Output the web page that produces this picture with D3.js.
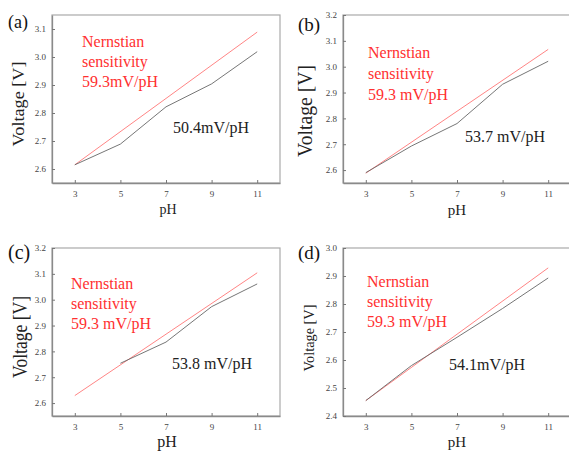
<!DOCTYPE html>
<html lang="en">
<head>
<meta charset="UTF-8"/>
<title>pH sensitivity</title>
<script src="https://d3js.org/d3.v7.min.js"></script>
<style>
	body { margin: 0; background: #fff; }
</style>
</head>
<body>
<script>
// values
var phTicks = [3, 5, 7, 9, 11];
var phFull = [3, 5, 7, 9, 11];
var phC = [5, 7, 9, 11];
var phEnds = [3, 11];

var voltA = [2.615, 2.689, 2.822, 2.904, 3.019];
var voltB = [2.590, 2.693, 2.780, 2.932, 3.021];
var voltC = [2.754, 2.836, 2.973, 3.061];
var voltD = [2.455, 2.580, 2.681, 2.784, 2.893];

var nernstA = [2.615, 3.089];
var nernstB = [2.588, 3.067];
var nernstC = [2.629, 3.104];
var nernstD = [2.455, 2.929];

var yTicksA = [2.6, 2.7, 2.8, 2.9, 3.0, 3.1];
var yTicksBC = [2.6, 2.7, 2.8, 2.9, 3.0, 3.1, 3.2];
var yTicksD = [2.4, 2.5, 2.6, 2.7, 2.8, 2.9, 3.0];

var panelNames = ["(a)", "(b)", "(c)", "(d)"];
var slopeTexts = ["50.4mV/pH", "53.7 mV/pH", "53.8 mV/pH", "54.1mV/pH"];
var nernstTexts = ["59.3mV/pH", "59.3 mV/pH", "59.3 mV/pH", "59.3 mV/pH"];

var w = 569, h = 451;
var serif = "'Liberation Serif', 'DejaVu Serif', serif";

var svg = d3.select("body").append("svg")
	.attr("width", w)
	.attr("height", h);

// layout of each panel (pixels)
var panels = [
	{ px: phFull, v: voltA, n: nernstA, yd: [2.55, 3.15], yt: yTicksA,
	  l: 52, r: 280, t: 15, b: 183,
	  name: [8, 28, 18], ylab: [24, 104, 17, 85], xlab: [168, 214, 14],
	  red: [82, 47, 20], blk: [173, 133] },
	{ px: phFull, v: voltB, n: nernstB, yd: [2.55, 3.2], yt: yTicksBC,
	  l: 343, r: 571, t: 15, b: 183,
	  name: [298, 31, 19], ylab: [312, 111, 20, 92], xlab: [457, 215, 15],
	  red: [368, 58, 21], blk: [465, 142] },
	{ px: phC, v: voltC, n: nernstC, yd: [2.55, 3.2], yt: yTicksBC,
	  l: 52, r: 280, t: 248, b: 416,
	  name: [8, 259, 20], ylab: [27, 337, 20, 82], xlab: [167, 447, 16],
	  red: [71, 289, 20], blk: [172, 369] },
	{ px: phFull, v: voltD, n: nernstD, yd: [2.4, 3.0], yt: yTicksD,
	  l: 343, r: 571, t: 248, b: 416,
	  name: [298, 259, 19], ylab: [314, 338, 15, 67], xlab: [457, 447, 15],
	  red: [367, 287, 20], blk: [449, 370] }
];

panels.forEach(function(p, i) {
	var g = svg.append("g");

	var x = d3.scaleLinear().domain([2, 12]).range([p.l, p.r]);
	var y = d3.scaleLinear().domain(p.yd).range([p.b, p.t]);

	// frame
	g.append("rect")
		.attr("x", p.l).attr("y", p.t)
		.attr("width", p.r - p.l).attr("height", p.b - p.t)
		.attr("fill", "none")
		.attr("stroke", "#aaa")
		.attr("stroke-width", 1.2);

	var xAxis = d3.axisBottom(x).tickValues(phTicks).tickSizeInner(-3).tickSizeOuter(0).tickPadding(8);
	var gx = g.append("g")
		.attr("transform", "translate(0," + p.b + ")")
		.call(xAxis);

	var yAxis = d3.axisLeft(y).tickValues(p.yt).tickFormat(d3.format(".1f"))
		.tickSizeInner(-3).tickSizeOuter(0).tickPadding(6);
	var gy = g.append("g")
		.attr("transform", "translate(" + p.l + ",0)")
		.call(yAxis);

	[gx, gy].forEach(function(a) {
		a.attr("font-family", serif).attr("font-size", 9);
		a.select(".domain").attr("stroke", "#8a8a8a").attr("stroke-width", 1.3);
		a.selectAll(".tick line").attr("stroke", "#777");
		a.selectAll(".tick text").attr("fill", "#444");
	});

	var line = d3.line()
		.x(function(d) { return x(d[0]); })
		.y(function(d) { return y(d[1]); });

	// Nernstian line
	var nernstPts = phEnds.map(function(d, k) { return [d, p.n[k]]; });
	g.append("path")
		.datum(nernstPts)
		.attr("d", line)
		.attr("fill", "none")
		.attr("stroke", "#ff8585")
		.attr("stroke-width", 1);

	// measured line
	var pts = p.px.map(function(d, k) { return [d, p.v[k]]; });
	g.append("path")
		.datum(pts)
		.attr("d", line)
		.attr("fill", "none")
		.attr("stroke", "#666")
		.attr("stroke-width", 0.9);

	// labels
	var lab = g.append("g").attr("font-family", serif);

	lab.append("text")
		.attr("x", p.name[0]).attr("y", p.name[1])
		.attr("font-size", p.name[2])
		.attr("fill", "#111")
		.text(panelNames[i]);

	lab.append("text")
		.attr("transform", "translate(" + p.ylab[0] + "," + p.ylab[1] + ") rotate(-90)")
		.attr("text-anchor", "middle")
		.attr("font-size", p.ylab[2])
		.attr("textLength", p.ylab[3])
		.attr("lengthAdjust", "spacingAndGlyphs")
		.attr("fill", "#222")
		.text("Voltage [V]");

	lab.append("text")
		.attr("x", p.xlab[0]).attr("y", p.xlab[1])
		.attr("text-anchor", "middle")
		.attr("font-size", p.xlab[2])
		.attr("fill", "#222")
		.text("pH");

	var redLines = ["Nernstian", "sensitivity", nernstTexts[i]];
	lab.selectAll(".red")
		.data(redLines)
		.enter()
		.append("text")
		.attr("class", "red")
		.attr("x", p.red[0])
		.attr("y", function(d, k) { return p.red[1] + k * p.red[2]; })
		.attr("font-size", 16)
		.attr("fill", "#ff3030")
		.text(function(d) { return d; });

	lab.append("text")
		.attr("x", p.blk[0]).attr("y", p.blk[1])
		.attr("font-size", 16)
		.attr("fill", "#222")
		.text(slopeTexts[i]);
});
</script>
</body>
</html>
